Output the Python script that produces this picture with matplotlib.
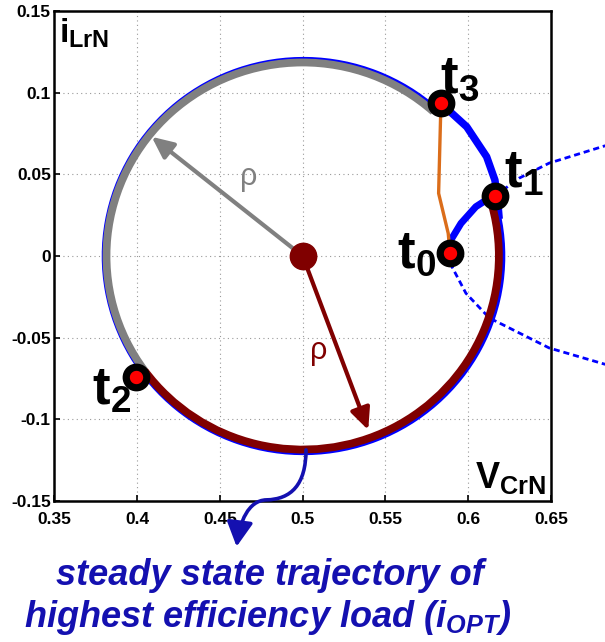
import numpy as np
import matplotlib
matplotlib.use('Agg')
import matplotlib.pyplot as plt
from matplotlib.patches import Arc, FancyArrowPatch
from matplotlib.path import Path

plt.rcParams['font.family'] = ['Liberation Sans', 'DejaVu Sans']
plt.rcParams['mathtext.fontset'] = 'custom'
plt.rcParams['mathtext.rm'] = 'Liberation Sans'
plt.rcParams['mathtext.bf'] = 'Liberation Sans:bold'
plt.rcParams['mathtext.it'] = 'Liberation Sans:bold:italic'

# axis ticks
x_ticks = [0.35, 0.4, 0.45, 0.5, 0.55, 0.6, 0.65]
x_tick_labels = ['0.35', '0.4', '0.45', '0.5', '0.55', '0.6', '0.65']
y_ticks = [-0.15, -0.1, -0.05, 0, 0.05, 0.1, 0.15]
y_tick_labels = ['-0.15', '-0.1', '-0.05', '0', '0.05', '0.1', '0.15']

# steady state circle in the normalised state plane
circle_center = (0.5, 0.0)
circle_radius = 0.1185
blue_center = (0.5005, 0.0)
blue_radius = 0.1197

# switching instants t0..t3
t_names = ['0', '1', '2', '3']
t_x = [0.589, 0.616, 0.3996, 0.5835]
t_y = [0.002, 0.0367, -0.0739, 0.0935]

# simulated orbit between t3 and t1
t31_x = [0.5835, 0.5991, 0.6111, 0.6161, 0.6175, 0.6185]
t31_y = [0.0935, 0.0791, 0.0608, 0.0465, 0.0367, 0.025]

# transient t0 -> t1
t01_x = [0.589, 0.5895, 0.5956, 0.6046, 0.6127, 0.616]
t01_y = [0.002, 0.0098, 0.0200, 0.0302, 0.0355, 0.0367]

# t3 -> t0 segment
t30_x = [0.5835, 0.5821, 0.5879, 0.589]
t30_y = [0.0935, 0.0384, 0.0139, 0.002]

# dashed continuation of the transient arc
lower_x = [0.589, 0.5896, 0.5986, 0.6127, 0.6308, 0.6489, 0.682, 0.69]
lower_y = [0.002, -0.0055, -0.0228, -0.0379, -0.0471, -0.0563, -0.0661, -0.068]
upper_x = [0.616, 0.6308, 0.6489, 0.682, 0.69]
upper_y = [0.0367, 0.0477, 0.0569, 0.0673, 0.0695]

# radius arrows
rho_grey_tip = (0.4088, 0.0730)
rho_red_tip = (0.5396, -0.1065)

# pointer from the circle bottom down to the caption (two cubic pieces)
stem_x = [0.502, 0.502, 0.493, 0.478, 0.467, 0.462, 0.4601]
stem_y = [-0.1187, -0.140, -0.1490, -0.1493, -0.1497, -0.163, -0.1779]

BLUE = '#0000ff'
GREY = '#808080'
DARKRED = '#800000'
ORANGE = '#db6d1a'
TEXTBLUE = '#1410b0'

fig = plt.figure(figsize=(6.05, 6.42), dpi=100)
ax = fig.add_axes([0.0898, 0.2196, 0.821, 0.7632])
ax.set_xlim(0.35, 0.65)
ax.set_ylim(-0.15, 0.15)
ax.set_xticks(x_ticks)
ax.set_xticklabels(x_tick_labels, fontweight='bold', fontsize=12.5)
ax.set_yticks(y_ticks)
ax.set_yticklabels(y_tick_labels, fontweight='bold', fontsize=12.5)
ax.tick_params(direction='in', length=4, width=1.2)
ax.tick_params(axis='x', pad=8)
ax.tick_params(axis='y', pad=2.5)
ax.grid(True, linestyle=(0, (1, 3)), color='#999999', lw=0.8)
ax.set_axisbelow(True)
for sp in ax.spines.values():
    sp.set_linewidth(1.8)

cx, cy = circle_center
ang = np.degrees(np.arctan2(np.array(t_y) - cy, np.array(t_x) - cx))
a1, a2, a3 = ang[1], ang[2], ang[3]

# steady state orbit: t3 -> t2 -> t1 underneath, t3 -> t1 on its own
ax.add_patch(Arc(blue_center, 2 * blue_radius, 2 * blue_radius,
                 theta1=a3, theta2=a1 + 355, color=BLUE, lw=5.2, zorder=2))
ax.plot(t31_x, t31_y, color=BLUE, lw=5.4, zorder=2, solid_joinstyle='round')
# t3 -> t2 (grey) and t2 -> t1 (dark red)
ax.add_patch(Arc(circle_center, 2 * circle_radius, 2 * circle_radius,
                 theta1=a3, theta2=a2, color=GREY, lw=5.6, zorder=3))
ax.add_patch(Arc(circle_center, 2 * circle_radius, 2 * circle_radius,
                 theta1=a2, theta2=a1 + 360, color=DARKRED, lw=5.6, zorder=3))

ax.plot(t01_x, t01_y, color=BLUE, lw=5, zorder=3, solid_capstyle='round')
ax.plot(t30_x, t30_y, color=ORANGE, lw=2.4, zorder=3)
ax.plot(lower_x, lower_y, color=BLUE, lw=2, dashes=(2.2, 1.4), clip_on=False, zorder=2)
ax.plot(upper_x, upper_y, color=BLUE, lw=2, dashes=(2.2, 1.4), clip_on=False, zorder=2)

# radius arrows
for tip, col in [(rho_grey_tip, GREY), (rho_red_tip, DARKRED)]:
    ax.annotate('', xy=tip, xytext=circle_center, zorder=4,
                arrowprops=dict(arrowstyle='-|>,head_length=0.65,head_width=0.3',
                                mutation_scale=20, color=col, lw=3,
                                shrinkA=0, shrinkB=0))
ax.text(0.4676, 0.0483, 'ρ', color=GREY, fontsize=22, ha='center', va='center', zorder=4)
ax.text(0.5095, -0.0581, 'ρ', color=DARKRED, fontsize=22, ha='center', va='center', zorder=4)

ax.plot(cx, cy, 'o', ms=19, color=DARKRED, zorder=5)
ax.plot(t_x, t_y, 'o', ms=14.8, mfc='red', mec='black', mew=5.2,
        zorder=6, clip_on=False)

label_offsets = {'0': (-38, -11), '1': (6.7, 5.8), '2': (-32, -20), '3': (-0.5, 7.4)}
for n, x, y in zip(t_names, t_x, t_y):
    ax.annotate(r'$\mathbf{t_%s}$' % n, (x, y), xytext=label_offsets[n],
                textcoords='offset points', fontsize=38, ha='left',
                va='baseline', zorder=7)

ax.text(0.0095, 0.935, r'$\mathbf{i}_{\mathbf{LrN}}$', transform=ax.transAxes,
        fontsize=24, ha='left', va='baseline')
ax.text(0.99, 0.0265, r'$\mathbf{V}_{\mathbf{CrN}}$', transform=ax.transAxes,
        fontsize=26, ha='right', va='baseline')

codes = [Path.MOVETO] + [Path.CURVE4] * 6
stem = FancyArrowPatch(path=Path(list(zip(stem_x, stem_y)), codes),
                       arrowstyle='-|>,head_length=0.75,head_width=0.4',
                       mutation_scale=20, color=TEXTBLUE, lw=2.6,
                       transform=ax.transData, clip_on=False, zorder=4)
ax.add_patch(stem)

fig.text(0.446, 1 - 585 / 642, 'steady state trajectory of', ha='center',
         va='baseline', fontsize=26, fontweight='bold', fontstyle='italic',
         color=TEXTBLUE)
fig.text(0.442, 1 - 627 / 642, r'highest efficiency load ($i_{OPT}$)',
         ha='center', va='baseline', fontsize=26, fontweight='bold',
         fontstyle='italic', color=TEXTBLUE)

fig.savefig('out.png', dpi=100)
